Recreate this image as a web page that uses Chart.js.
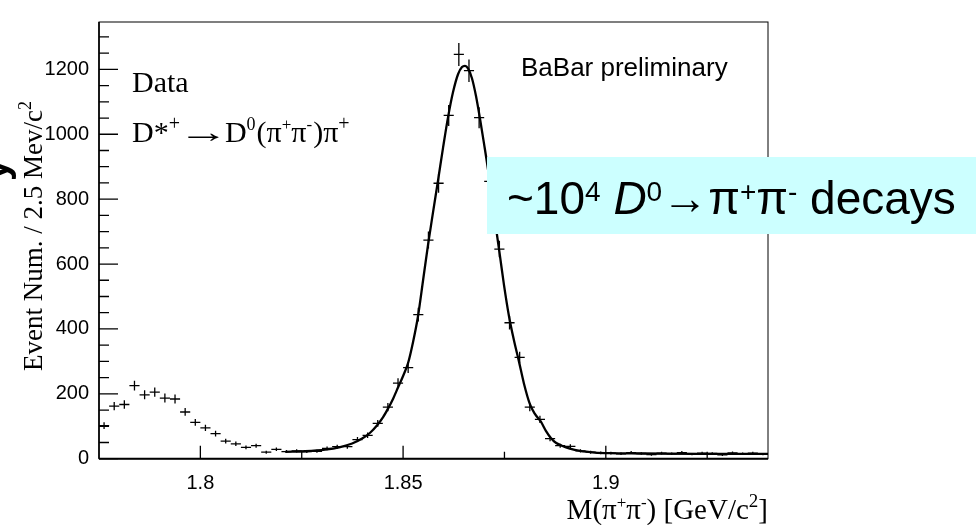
<!DOCTYPE html>
<html><head><meta charset="utf-8">
<script src="https://cdn.jsdelivr.net/npm/chart.js@4.4.0/dist/chart.umd.min.js"></script>
<style>html,body{margin:0;padding:0;background:#fff;}canvas{display:block}</style>
</head><body>
<canvas id="c" width="979" height="525"></canvas>
<script>
// ---- data ----
const massBins = [1.77625,1.77875,1.78125,1.78375,1.78625,1.78875,1.79125,1.79375,1.79625,1.79875,
  1.80125,1.80375,1.80625,1.80875,1.81125,1.81375,1.81625,1.81875,1.82125,1.82375,
  1.82625,1.82875,1.83125,1.83375,1.83625,1.83875,1.84125,1.84375,1.84625,1.84875,
  1.85125,1.85375,1.85625,1.85875,1.86125,1.86375,1.86625,1.86875,1.87125,1.87375,
  1.87625,1.87875,1.88125,1.88375,1.88625,1.88875,1.89125,1.89375,1.89625,1.89875,
  1.90125,1.90375,1.90625,1.90875,1.91125,1.91375,1.91625,1.91875,1.92125,1.92375,
  1.92625,1.92875,1.93125,1.93375,1.93625,1.93875];
const eventCounts = [102,162,167,225,197,205,187,184,144,112,
  95,77,54,46,35,40,20,29,22,24,
  22,23,32,37,37,59,72,109,159,233,
  281,444,674,849,1058,1246,1196,1051,855,646,
  419,312,159,121,62,40,38,24,20,18,
  17,15,19,16,13,17,15,19,14,17,
  16,12,18,15,17,14];
const fitMass = [1.82094,1.82586,1.83079,1.83448,1.83744,1.83990,1.84187,1.84360,1.84507,1.84631,
  1.84754,1.84877,1.85000,1.85123,1.85246,1.85369,1.85493,1.85616,1.85739,1.85862,
  1.85985,1.86108,1.86232,1.86355,1.86453,1.86527,1.86601,1.86700,1.86798,1.86897,
  1.86995,1.87094,1.87192,1.87291,1.87389,1.87488,1.87611,1.87734,1.87857,1.87980,
  1.88128,1.88251,1.88399,1.88522,1.88645,1.88768,1.88916,1.89113,1.89360,1.89729,
  1.90099,1.90837,1.92315,1.94];
const fitCounts = [21,23,28,36,47,62,80,103,128,155,
  185,220,255,295,360,440,550,660,760,858,
  958,1052,1130,1185,1207,1211,1203,1172,1118,1048,
  972,892,802,712,625,536,440,365,300,232,
  168,138,114,86,64,49,40,31,24,19,
  17,16,15,15];
const xTickValues = [1.8, 1.85, 1.9];
const xTickLabels = ['1.8', '1.85', '1.9'];
const yTickValues = [0, 200, 400, 600, 800, 1000, 1200];
const yTickLabels = ['0', '200', '400', '600', '800', '1000', '1200'];

const SERIF = '"Liberation Serif","Times New Roman",serif';
const SANS = '"Liberation Sans",Arial,sans-serif';

function drawRich(ctx, segs, x, y, align) {
  let total = 0;
  for (const s of segs) { ctx.font = s.font; s.w = ctx.measureText(s.t).width * (s.sx || 1) + (s.gap || 0); total += s.w; }
  let cx = align === 'center' ? x - total / 2 : align === 'right' ? x - total : x;
  ctx.textAlign = 'left'; ctx.textBaseline = 'alphabetic';
  for (const s of segs) {
    ctx.font = s.font;
    ctx.save();
    ctx.translate(cx + (s.pre || 0), y - (s.up || 0));
    if (s.sx) ctx.scale(s.sx, 1);
    ctx.fillText(s.t, 0, 0);
    ctx.restore();
    cx += s.w;
  }
}

const framePlugin = {
  id: 'frame',
  afterDatasetsDraw(chart) {
    const {ctx, chartArea: a, scales: {x, y}} = chart;
    ctx.save();
    ctx.strokeStyle = '#000';
    // error bars (vertical, sqrt N)
    ctx.lineWidth = 1.3;
    ctx.beginPath();
    for (let i = 0; i < massBins.length; i++) {
      const n = eventCounts[i], e = Math.sqrt(n);
      const px = x.getPixelForValue(massBins[i]);
      ctx.moveTo(px, y.getPixelForValue(n - e));
      ctx.lineTo(px, y.getPixelForValue(n + e));
    }
    ctx.stroke();
    // frame
    ctx.lineWidth = 1;
    ctx.strokeRect(a.left, a.top, a.right - a.left, a.bottom - a.top);
    ctx.lineWidth = 1.6;
    ctx.beginPath();
    ctx.moveTo(a.left, a.top); ctx.lineTo(a.left, a.bottom);
    ctx.stroke();
    ctx.lineWidth = 2;
    ctx.beginPath();
    ctx.moveTo(a.left, a.bottom); ctx.lineTo(a.right, a.bottom);
    ctx.stroke();
    // y ticks (inside)
    ctx.lineWidth = 1.3;
    ctx.beginPath();
    for (let v = 0; v <= 1300; v += 50) {
      const py = y.getPixelForValue(v);
      const len = v % 200 === 0 ? 19 : 10;
      ctx.moveTo(a.left, py); ctx.lineTo(a.left + len, py);
    }
    // x ticks (inside)
    for (let k = 1; k <= 6; k++) {
      const v = 1.775 + 0.025 * k;
      const px = x.getPixelForValue(v);
      const len = k % 2 === 1 ? 13 : 7;
      ctx.moveTo(px, a.bottom); ctx.lineTo(px, a.bottom - len);
    }
    ctx.stroke();
    ctx.restore();
  },
  afterDraw(chart) {
    const {ctx} = chart;
    ctx.save();
    ctx.fillStyle = '#000';
    // Y axis title
    ctx.save();
    ctx.translate(42, 236);
    ctx.rotate(-Math.PI / 2);
    drawRich(ctx, [
      {t: 'Event Num. / 2.5 Mev/c', font: '27px ' + SERIF},
      {t: '2', font: '18px ' + SERIF, up: 11}
    ], 0, 0, 'center');
    ctx.restore();
    // partial big glyph at the left edge
    ctx.save();
    ctx.translate(8, 170);
    ctx.rotate(-Math.PI / 2);
    ctx.font = 'bold 40px ' + SANS;
    ctx.textAlign = 'center';
    ctx.fillText('y', 0, 0);
    ctx.restore();
    // X axis title
    drawRich(ctx, [
      {t: 'M(\u03c0', font: '29px ' + SERIF},
      {t: '+', font: '17px ' + SERIF, up: 11},
      {t: '\u03c0', font: '29px ' + SERIF},
      {t: '-', font: '17px ' + SERIF, up: 11},
      {t: ') [GeV/c', font: '29px ' + SERIF},
      {t: '2', font: '19px ' + SERIF, up: 12},
      {t: ']', font: '29px ' + SERIF}
    ], 768, 519, 'right');
    // Data labels
    ctx.font = '30px ' + SERIF;
    ctx.textAlign = 'left';
    ctx.fillText('Data', 132, 92);
    drawRich(ctx, [
      {t: 'D*', font: '30px ' + SERIF},
      {t: '+', font: '20px ' + SERIF, up: 12, gap: -2},
      {t: '\u2192', font: '30px ' + SERIF, sx: 1.7, gap: -4},
      {t: 'D', font: '30px ' + SERIF},
      {t: '0', font: '18px ' + SERIF, up: 12, gap: 1},
      {t: '(\u03c0', font: '30px ' + SERIF},
      {t: '+', font: '17px ' + SERIF, up: 12},
      {t: '\u03c0', font: '30px ' + SERIF},
      {t: '-', font: '17px ' + SERIF, up: 12, gap: 1},
      {t: ')\u03c0', font: '30px ' + SERIF},
      {t: '+', font: '20px ' + SERIF, up: 12}
    ], 132, 142, 'left');
    // BaBar preliminary
    ctx.font = '26px ' + SANS;
    ctx.fillText('BaBar preliminary', 521, 76);
    // cyan box
    ctx.fillStyle = '#ccffff';
    ctx.fillRect(487, 157, 489, 77);
    ctx.fillStyle = '#000';
    drawRich(ctx, [
      {t: '~10', font: '46px ' + SANS},
      {t: '4', font: '28px ' + SANS, up: 13},
      {t: ' ', font: '46px ' + SANS},
      {t: 'D', font: 'italic 46px ' + SANS},
      {t: '0', font: '28px ' + SANS, up: 13},
      {t: '\u2192\u03c0', font: '46px ' + SANS},
      {t: '+', font: '28px ' + SANS, up: 13},
      {t: '\u03c0', font: '46px ' + SANS},
      {t: '-', font: '28px ' + SANS, up: 13},
      {t: ' decays', font: '46px ' + SANS}
    ], 507, 214, 'left');
    ctx.restore();
  }
};

const chart = new Chart(document.getElementById('c'), {
  type: 'scatter',
  data: {
    datasets: [
      {
        label: 'Fit', type: 'line',
        data: fitMass.map((m, i) => ({x: m, y: fitCounts[i]})),
        borderColor: '#000', borderWidth: 2.3, pointRadius: 0,
        cubicInterpolationMode: 'monotone', fill: false, showLine: true
      },
      {
        label: 'Data',
        data: massBins.map((m, i) => ({x: m, y: eventCounts[i]})),
        pointStyle: 'line', pointRadius: 5.07, pointBorderWidth: 1.3,
        borderColor: '#000', backgroundColor: '#000', showLine: false
      }
    ]
  },
  options: {
    responsive: false, animation: false, devicePixelRatio: 1,
    layout: {padding: {left: 0, right: 211, top: 10, bottom: 0}},
    plugins: {legend: {display: false}, tooltip: {enabled: false}},
    scales: {
      x: {
        type: 'linear', min: 1.775, max: 1.94,
        grid: {display: false, drawTicks: false}, border: {display: false},
        afterBuildTicks: s => { s.ticks = xTickValues.map(v => ({value: v})); },
        afterFit: s => { s.height = 66.3; },
        ticks: {
          padding: 13, color: '#000', font: {family: SANS, size: 20},
          callback: (v) => { const i = xTickValues.findIndex(t => Math.abs(t - v) < 1e-9); return i >= 0 ? xTickLabels[i] : ''; }
        }
      },
      y: {
        type: 'linear', min: 0, max: 1346,
        grid: {display: false, drawTicks: false}, border: {display: false},
        afterBuildTicks: s => { s.ticks = yTickValues.map(v => ({value: v})); },
        afterFit: s => { s.width = 99; },
        ticks: {
          padding: 10, color: '#000', font: {family: SANS, size: 20},
          callback: (v) => { const i = yTickValues.indexOf(v); return i >= 0 ? yTickLabels[i] : ''; }
        }
      }
    }
  },
  plugins: [framePlugin]
});
</script>
</body></html>
